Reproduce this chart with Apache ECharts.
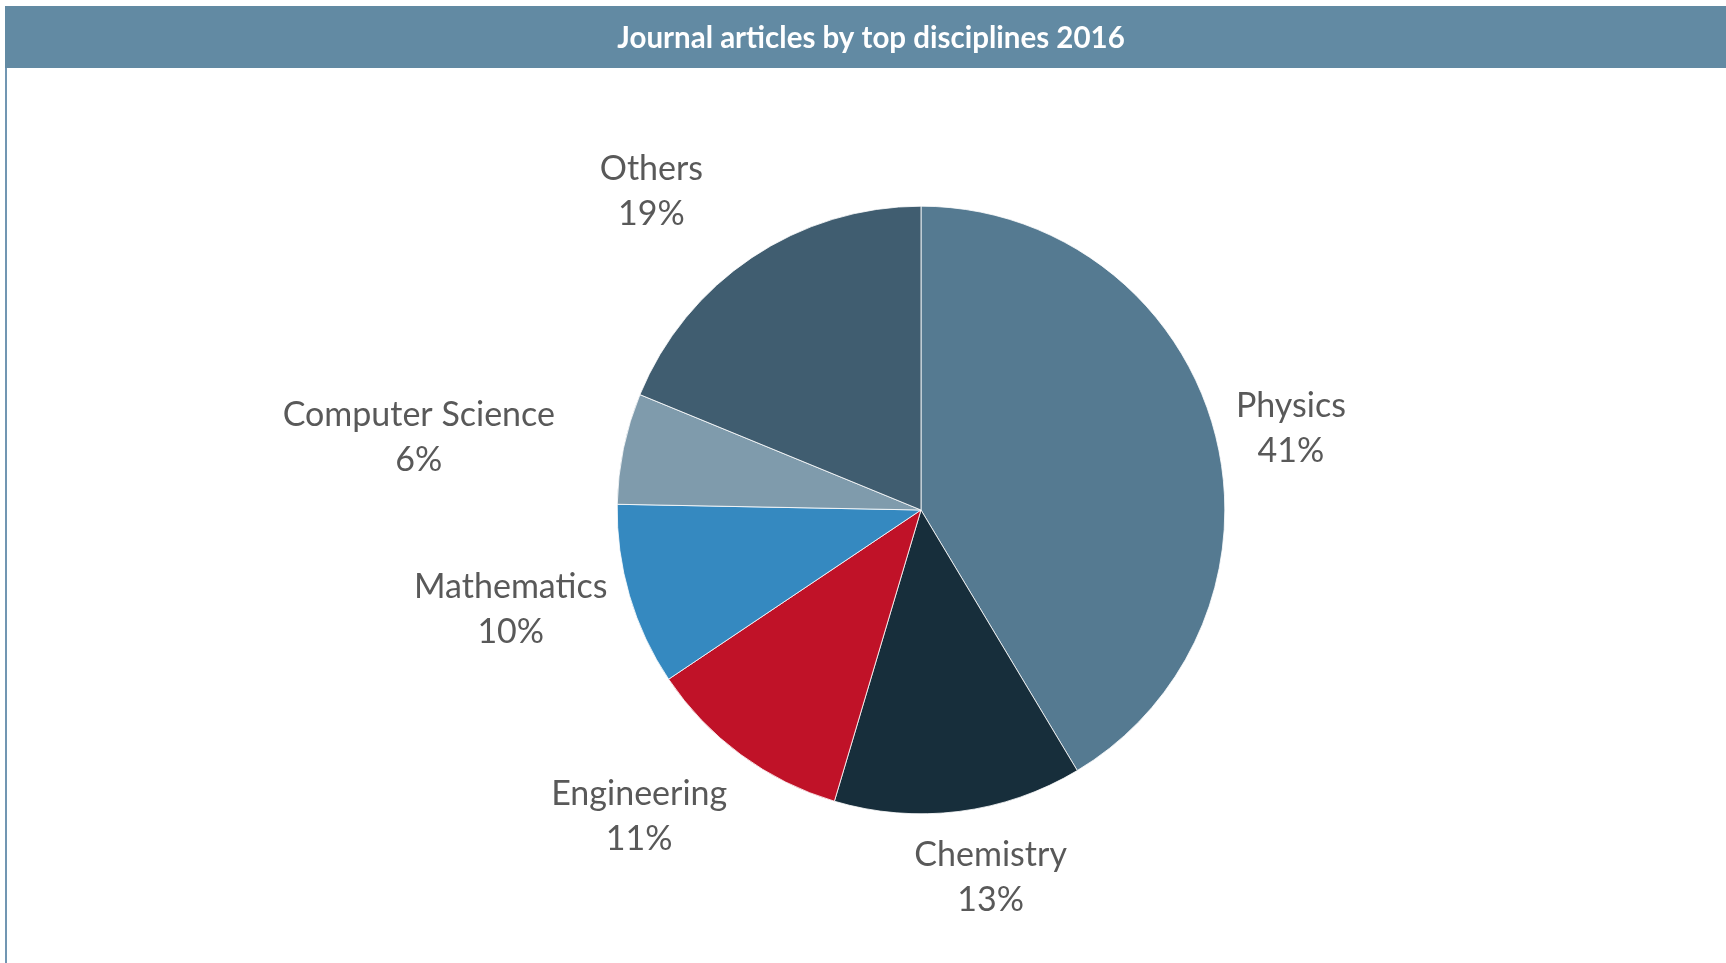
<!DOCTYPE html>
<html>
<head>
<meta charset="utf-8">
<script src="https://cdn.jsdelivr.net/npm/echarts@6/dist/echarts.min.js"></script>
<style>
html,body{margin:0;padding:0;background:#fff;}
#chart{width:1726px;height:963px;}
</style>
</head>
<body>
<div id="chart"></div>
<script>
const titleText = 'Journal articles by top disciplines 2016';
const categories = ['Physics', 'Chemistry', 'Engineering', 'Mathematics', 'Computer Science', 'Others'];
const values = [41.4, 13.2, 11.0, 9.7, 5.9, 18.8];
const colors = ['#557a91', '#172e3b', '#c01228', '#3589c0', '#7f9bac', '#405d70'];
// small manual label nudges (layout only, pixels)
const labelNudgeX = [0, 0, 0, 0, -46, -36];
const labelNudgeY = [2, 0, 0, 0, -11, -14];

const chart = echarts.init(document.getElementById('chart'));
const W = chart.getWidth(), H = chart.getHeight();
const CX = 0.5336, CY = 0.5296, RAD = 0.631;
const cx = W * CX, cy = H * CY, r = Math.min(W, H) / 2 * RAD;
const total = values.reduce((a, b) => a + b, 0);
let cum = 0;
const mids = values.map(v => { const m = (cum + v / 2) / total * 2 * Math.PI; cum += v; return m; });
const GAP = 23;
const clamp = (v, lo, hi) => Math.max(lo, Math.min(hi, v));

chart.setOption({
  animation: false,
  title: {
    text: titleText,
    left: 871, top: 38, textAlign: 'center', textVerticalAlign: 'middle', padding: 0,
    textStyle: { color: '#ffffff', fontFamily: 'Lato', fontWeight: 'bold', fontSize: 29.5 }
  },
  graphic: [
    { type: 'rect', z: -10, shape: { x: 5, y: 6, width: W - 5, height: 62 }, style: { fill: '#628aa3' } },
    { type: 'rect', z: -10, shape: { x: 5, y: 68, width: 2, height: H - 68 }, style: { fill: '#7196b2' } }
  ],
  series: [{
    type: 'pie',
    center: [(CX * 100) + '%', (CY * 100) + '%'],
    radius: (RAD * 100) + '%',
    startAngle: 90,
    clockwise: true,
    avoidLabelOverlap: false,
    itemStyle: { borderColor: '#ffffff', borderWidth: 0.8 },
    label: {
      show: true,
      position: 'outside',
      formatter: p => p.name + '\n' + Math.round(p.percent) + '%',
      color: '#595959',
      fontFamily: 'Lato',
      fontSize: 34,
      lineHeight: 45
    },
    labelLine: { show: false },
    labelLayout: function (p) {
      const i = p.dataIndex;
      const a = mids[i];
      const dx = Math.sin(a), dy = -Math.cos(a);
      const R = r + GAP;
      const ax = cx + dx * R, ay = cy + dy * R;
      const w = p.labelRect.width, h = p.labelRect.height;
      const fx = clamp(dx * 3, -1, 1);
      const fy = Math.sign(dy) * clamp((Math.abs(dy) - 0.25) / 0.5, 0, 1);
      return {
        x: ax + fx * w / 2 + labelNudgeX[i],
        y: ay + fy * h / 2 * 0.85 + 5 + labelNudgeY[i],
        align: 'center', verticalAlign: 'middle'
      };
    },
    emphasis: { disabled: true },
    data: categories.map((c, i) => ({ name: c, value: values[i], itemStyle: { color: colors[i] } }))
  }]
});
</script>
</body>
</html>
